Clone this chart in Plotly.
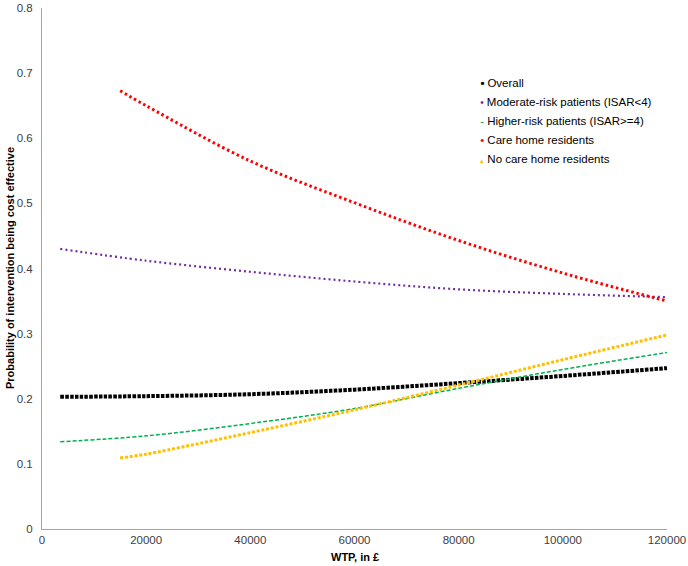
import plotly.graph_objects as go

# WTP thresholds (GBP)
wtp_full = [3500, 20000, 40000, 60000, 80000, 100000, 120000]
wtp_care = [15000, 20000, 40000, 60000, 80000, 100000, 120000]

overall = [0.203, 0.204, 0.207, 0.214, 0.224, 0.235, 0.247]
moderate_risk = [0.430, 0.412, 0.395, 0.380, 0.368, 0.361, 0.356]
higher_risk = [0.134, 0.143, 0.162, 0.185, 0.216, 0.245, 0.271]
care_home = [0.673, 0.650, 0.565, 0.501, 0.443, 0.393, 0.350]
no_care_home = [0.109, 0.115, 0.148, 0.183, 0.221, 0.260, 0.298]

FONT = "Liberation Sans, Arial, sans-serif"

series = [
    ("Overall", wtp_full, overall, dict(color="#000000", width=4, dash="3.5px,1.3px"), "▪", 11.5),
    ("Moderate-risk patients (ISAR<4)", wtp_full, moderate_risk, dict(color="#7030A0", width=2.2, dash="2px,3px"), "•", 10),
    ("Higher-risk patients (ISAR>=4)", wtp_full, higher_risk, dict(color="#00B050", width=1.5, dash="4px,2px"), "-", 11.5),
    ("Care home residents", wtp_care, care_home, dict(color="#FF0000", width=3, dash="2.5px,2.8px"), "•", 11.5),
    ("No care home residents", wtp_care, no_care_home, dict(color="#FFC000", width=3, dash="3px,1.8px"), "▴", 7),
]

fig = go.Figure()
for name, xs, ys, line, glyph, gsize in series:
    line["shape"] = "spline"
    fig.add_trace(go.Scatter(x=xs, y=ys, mode="lines", name=name, line=line, showlegend=False))
    # Excel-style legend entry: a small coloured marker right before the label
    label = f'<span style="color:{line["color"]};font-size:{gsize}px">{glyph}</span> {name}'
    fig.add_trace(go.Scatter(x=[None], y=[None], mode="markers", name=label,
                             marker=dict(size=1, opacity=0, color="white")))

fig.update_layout(
    width=688, height=566,
    margin=dict(l=42, r=21, t=8, b=37),
    paper_bgcolor="white", plot_bgcolor="white",
    font=dict(family=FONT, size=11.5, color="#404040"),
    showlegend=True,
    legend=dict(x=0.637, y=0.885, xanchor="left", yanchor="top",
                font=dict(family=FONT, size=11.5, color="#000000"),
                itemwidth=30, bgcolor="rgba(0,0,0,0)"),
    xaxis=dict(range=[0, 120000], dtick=20000, tickformat="d", showgrid=False, zeroline=False,
               showline=True, linecolor="#a6a6a6", linewidth=1, ticks="", automargin=False,
               ticklabeloverflow="allow"),
    yaxis=dict(range=[0, 0.8], dtick=0.1, showgrid=False, zeroline=False,
               showline=True, linecolor="#a6a6a6", linewidth=1, ticks="", ticklabelstandoff=6,
               automargin=False, ticklabeloverflow="allow"),
    annotations=[
        dict(text="<b>Probability of intervention being cost effective</b>", xref="paper", yref="paper",
             x=-0.052, y=0.5, xanchor="center", yanchor="middle", textangle=-90, showarrow=False,
             font=dict(family=FONT, size=11, color="#000000")),
        dict(text="<b>WTP, in £</b>", xref="paper", yref="paper",
             x=0.5, y=-0.054, xanchor="center", yanchor="middle", showarrow=False,
             font=dict(family=FONT, size=11, color="#000000")),
    ],
)

# drop the browser's default 8px body margin so the figure fills the window
fig.write_html("out.html", config={"displayModeBar": False},
               post_script="document.body.style.margin='0';")
